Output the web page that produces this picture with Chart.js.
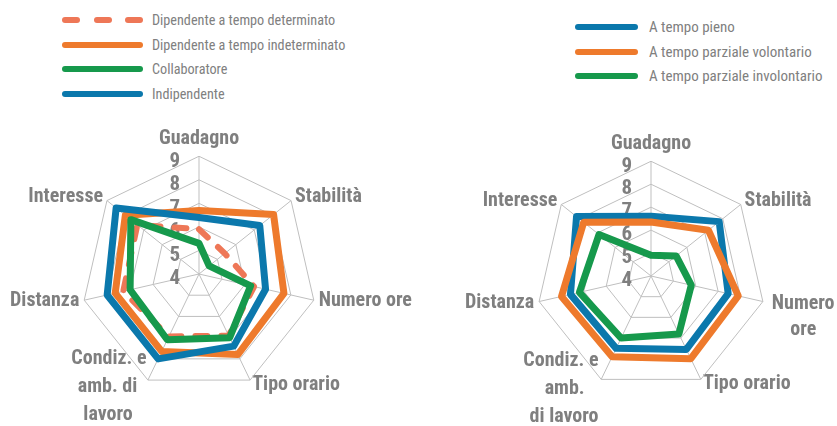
<!DOCTYPE html>
<html>
<head>
<meta charset="utf-8">
<script src="https://cdn.jsdelivr.net/npm/chart.js@4.4.1/dist/chart.umd.min.js"></script>
<style>
  body { margin: 0; background: #fff; width: 837px; height: 426px; position: relative; overflow: hidden; }
  .legend { position: absolute; font-family: 'Roboto Condensed', sans-serif; color: #808080; white-space: nowrap; z-index: 2; }
  .legend .row { height: 24.6px; display: flex; align-items: center; }
  .legend .sw { height: 6px; border-radius: 3px; }
  .legend .dash { display: flex; justify-content: space-between; }
  .legend .dash span { width: 18px; height: 6px; border-radius: 3px; }
  #leg1 { font-size: 14.2px; }
  #leg2 { font-size: 15px; }
  #leg1 .sw, #leg1 .dash { width: 81px; margin-right: 9px; }
  #leg2 .sw { width: 63px; margin-right: 11px; }
  canvas { position: absolute; }
</style>
</head>
<body>
<div class="legend" id="leg1" style="left:62px; top:8px;"></div>
<div class="legend" id="leg2" style="left:575px; top:15px;"></div>
<canvas id="c1" width="500" height="312" style="left:-51px; top:123px;"></canvas>
<canvas id="c2" width="480" height="312" style="left:411px; top:127px;"></canvas>
<script>
const labels1 = ['Guadagno', 'Stabilità', 'Numero ore', 'Tipo orario', ['Condiz. e    ', 'amb. di      ', 'lavoro       '], 'Distanza', 'Interesse'];
const labels2 = ['Guadagno', 'Stabilità', ['            Numero', '                ore'], 'Tipo orario', ['Condiz. e    ', 'amb.       ', 'di lavoro    '], 'Distanza', 'Interesse'];

// contratto
const determinato = [5.9, 5.4, 6.4, 6.9, 6.95, 7.3, 7.35];
const indeterminato = [6.7, 8.05, 7.7, 7.8, 7.65, 7.65, 8.0];
const collaboratore = [5.3, 4.55, 6.25, 7.0, 7.1, 7.0, 7.7];
const indipendente = [6.4, 7.3, 6.9, 7.4, 8.0, 8.0, 8.5];

// orario
const pieno = [6.6, 7.8, 7.45, 7.55, 7.5, 7.6, 8.15];
const volontario = [6.35, 7.2, 7.9, 8.0, 7.9, 8.0, 7.75];
const involontario = [4.9, 5.4, 5.8, 6.8, 7.0, 7.2, 6.9];

const BLUE = '#0b78ac';
const ORANGE = '#ee7a2c';
const GREEN = '#16994c';
const SALMON = '#ee7757';
const GREY = '#7f7f7f';
const FONT = "'Roboto Condensed', sans-serif";

const series1 = [
  { label: 'Dipendente a tempo determinato', data: determinato, color: SALMON, dash: true },
  { label: 'Dipendente a tempo indeterminato', data: indeterminato, color: ORANGE },
  { label: 'Collaboratore', data: collaboratore, color: GREEN },
  { label: 'Indipendente', data: indipendente, color: BLUE },
];
const series2 = [
  { label: 'A tempo pieno', data: pieno, color: BLUE },
  { label: 'A tempo parziale volontario', data: volontario, color: ORANGE },
  { label: 'A tempo parziale involontario', data: involontario, color: GREEN },
];

function buildLegend(el, series) {
  series.forEach((s) => {
    const row = document.createElement('div');
    row.className = 'row';
    const sw = document.createElement('div');
    if (s.dash) {
      sw.className = 'dash';
      for (let i = 0; i < 3; i += 1) {
        const d = document.createElement('span');
        d.style.background = s.color;
        sw.appendChild(d);
      }
    } else {
      sw.className = 'sw';
      sw.style.background = s.color;
    }
    row.appendChild(sw);
    const t = document.createElement('span');
    t.textContent = s.label;
    row.appendChild(t);
    el.appendChild(row);
  });
}

// labelPad: radial padding per axis label, lineH: line height per label
function makeRadar(id, labels, series, labelPad, lineH) {
  const n = series.length;
  const datasets = series.map((s, i) => ({
    label: s.label,
    data: s.data,
    borderColor: s.color,
    backgroundColor: 'transparent',
    borderWidth: s.dash ? 6 : 7,
    borderDash: s.dash ? [12, 14] : [],
    borderCapStyle: 'round',
    borderJoinStyle: 'round',
    pointRadius: 0,
    pointHoverRadius: 0,
    fill: false,
    tension: 0,
    order: n - i,
  }));
  return new Chart(document.getElementById(id), {
    type: 'radar',
    data: { labels, datasets },
    options: {
      responsive: false,
      animation: false,
      plugins: { legend: { display: false }, tooltip: { enabled: false } },
      scales: {
        r: {
          min: 4,
          max: 9,
          // chart.js never prints the label of the first tick, so put a dummy in front
          afterBuildTicks: (scale) => { scale.ticks.unshift({ value: scale.min }); },
          ticks: {
            stepSize: 1,
            showLabelBackdrop: false,
            color: GREY,
            font: { family: FONT, size: 21, weight: 'bold', lineHeight: '5px' },
            // empty first line nudges the number a bit under its ring, spaces push it left of the axis
            callback: (v) => ['', v + '          '],
          },
          grid: { color: '#bfbfbf', lineWidth: 1 },
          angleLines: { color: '#bfbfbf', lineWidth: 1 },
          pointLabels: {
            color: GREY,
            padding: (c) => labelPad[c.index],
            font: (c) => ({ family: FONT, size: 20, weight: 'bold', lineHeight: lineH[c.index] }),
          },
        },
      },
    },
  });
}

buildLegend(document.getElementById('leg1'), series1);
buildLegend(document.getElementById('leg2'), series2);
makeRadar('c1', labels1, series1, [-7.5, -7.5, -7.5, -7.5, -51.7, -7.5, -7.5], [1.2, 0.01, 0.01, 0.01, 1.4, 0.01, 0.01]);
makeRadar('c2', labels2, series2, [-7.5, -7.5, -60, -7.5, -48.7, -7.5, -7.5], [1.2, 0.01, 1.3, 0.01, 1.4, 0.01, 0.01]);
</script>
</body>
</html>
